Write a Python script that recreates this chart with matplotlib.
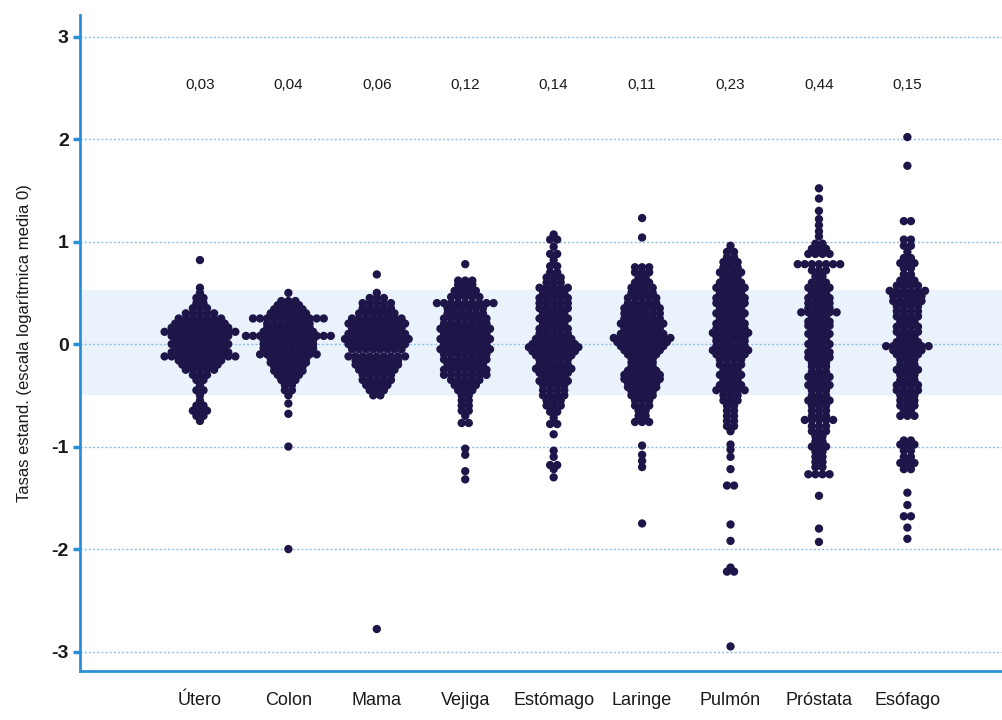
import matplotlib
matplotlib.use("Agg")
import matplotlib.pyplot as plt

# categories and the value printed above each column
categorias = ["Útero", "Colon", "Mama", "Vejiga", "Estómago", "Laringe", "Pulmón", "Próstata", "Esófago"]
etiquetas = ["0,03", "0,04", "0,06", "0,12", "0,14", "0,11", "0,23", "0,44", "0,15"]

# each column: (standardised log rate, number of provinces at that level)
utero = [(0.82, 1), (0.55, 1), (0.50, 1), (0.45, 2), (0.40, 2), (0.35, 3), (0.30, 5), (0.25, 7),
         (0.20, 8), (0.16, 9), (0.12, 11), (0.08, 9), (0.04, 8), (0.00, 9), (-0.04, 8), (-0.08, 9),
         (-0.12, 11), (-0.16, 7), (-0.20, 6), (-0.25, 5), (-0.30, 3), (-0.35, 2), (-0.40, 1),
         (-0.45, 2), (-0.50, 1), (-0.55, 1), (-0.60, 2), (-0.65, 3), (-0.70, 2), (-0.75, 1)]
colon = [(0.50, 1), (0.42, 3), (0.38, 4), (0.34, 5), (0.30, 6), (0.25, 11), (0.20, 7), (0.16, 7),
         (0.12, 8), (0.08, 13), (0.04, 8), (0.00, 8), (-0.04, 8), (-0.10, 9), (-0.14, 6), (-0.18, 6),
         (-0.22, 5), (-0.26, 5), (-0.30, 4), (-0.35, 3), (-0.40, 2), (-0.45, 2), (-0.50, 1),
         (-0.58, 1), (-0.68, 1), (-1.00, 1), (-2.00, 1)]
mama = [(0.68, 1), (0.50, 1), (0.45, 3), (0.40, 5), (0.35, 5), (0.30, 6), (0.25, 8), (0.20, 9),
        (0.15, 8), (0.10, 9), (0.05, 10), (0.00, 9), (-0.05, 8), (-0.12, 9), (-0.16, 7), (-0.20, 7),
        (-0.25, 6), (-0.30, 5), (-0.35, 5), (-0.40, 4), (-0.45, 3), (-0.50, 2), (-2.78, 1)]
vejiga = [(0.78, 1), (0.62, 3), (0.58, 3), (0.52, 4), (0.46, 5), (0.40, 9), (0.35, 6), (0.30, 6),
          (0.25, 7), (0.20, 7), (0.15, 8), (0.10, 7), (0.05, 8), (0.00, 7), (-0.05, 8), (-0.10, 7),
          (-0.15, 7), (-0.20, 6), (-0.25, 7), (-0.30, 7), (-0.35, 5), (-0.40, 4), (-0.45, 3),
          (-0.50, 2), (-0.55, 2), (-0.60, 2), (-0.65, 2), (-0.70, 1), (-0.77, 2), (-1.02, 1),
          (-1.08, 1), (-1.24, 1), (-1.32, 1)]
estomago = [(1.07, 1), (1.02, 2), (0.95, 1), (0.88, 2), (0.82, 1), (0.76, 2), (0.70, 2), (0.65, 3),
            (0.60, 3), (0.55, 5), (0.50, 4), (0.45, 5), (0.40, 5), (0.35, 5), (0.30, 4), (0.25, 5),
            (0.20, 4), (0.15, 5), (0.10, 5), (0.05, 6), (0.00, 7), (-0.03, 8), (-0.07, 7),
            (-0.11, 6), (-0.15, 5), (-0.20, 5), (-0.24, 6), (-0.28, 5), (-0.32, 4), (-0.36, 5),
            (-0.40, 4), (-0.45, 4), (-0.50, 4), (-0.55, 3), (-0.60, 3), (-0.66, 2), (-0.72, 1),
            (-0.78, 2), (-0.88, 1), (-1.04, 1), (-1.10, 1), (-1.18, 2), (-1.22, 1), (-1.30, 1)]
laringe = [(1.23, 1), (1.04, 1), (0.75, 3), (0.70, 3), (0.65, 2), (0.60, 3), (0.55, 4), (0.50, 4),
           (0.45, 5), (0.40, 5), (0.35, 6), (0.30, 6), (0.25, 6), (0.20, 7), (0.15, 6), (0.10, 7),
           (0.06, 9), (0.02, 8), (-0.02, 7), (-0.06, 6), (-0.10, 5), (-0.14, 4), (-0.18, 4),
           (-0.22, 4), (-0.26, 5), (-0.30, 6), (-0.34, 6), (-0.38, 5), (-0.42, 5), (-0.46, 4),
           (-0.50, 4), (-0.55, 3), (-0.60, 3), (-0.65, 2), (-0.70, 2), (-0.76, 3), (-0.99, 1),
           (-1.08, 1), (-1.14, 1), (-1.20, 1), (-1.75, 1)]
pulmon = [(0.96, 1), (0.90, 2), (0.85, 2), (0.80, 3), (0.75, 3), (0.70, 4), (0.65, 3), (0.60, 4),
          (0.55, 5), (0.50, 4), (0.45, 5), (0.40, 5), (0.35, 4), (0.30, 5), (0.25, 4), (0.20, 5),
          (0.15, 5), (0.11, 6), (0.07, 5), (0.03, 5), (-0.02, 5), (-0.06, 6), (-0.10, 5),
          (-0.15, 4), (-0.20, 4), (-0.25, 3), (-0.30, 4), (-0.35, 3), (-0.40, 4), (-0.45, 5),
          (-0.50, 3), (-0.55, 3), (-0.60, 2), (-0.65, 2), (-0.70, 2), (-0.75, 2), (-0.80, 2),
          (-0.85, 1), (-0.98, 1), (-1.03, 1), (-1.10, 1), (-1.22, 1), (-1.38, 2), (-1.76, 1),
          (-1.92, 1), (-2.18, 1), (-2.22, 2), (-2.95, 1)]
prostata = [(1.52, 1), (1.42, 1), (1.30, 1), (1.22, 1), (1.16, 1), (1.10, 1), (1.05, 1), (0.98, 2),
            (0.93, 3), (0.88, 4), (0.78, 7), (0.72, 3), (0.66, 2), (0.60, 3), (0.55, 4), (0.50, 3),
            (0.45, 4), (0.40, 4), (0.35, 4), (0.31, 6), (0.26, 3), (0.22, 4), (0.18, 4), (0.14, 3),
            (0.10, 4), (0.05, 3), (0.00, 4), (-0.04, 3), (-0.08, 4), (-0.13, 4), (-0.18, 3),
            (-0.22, 3), (-0.27, 3), (-0.32, 4), (-0.36, 3), (-0.40, 4), (-0.45, 3), (-0.50, 3),
            (-0.55, 4), (-0.60, 3), (-0.65, 3), (-0.70, 3), (-0.74, 5), (-0.80, 3), (-0.85, 3),
            (-0.90, 2), (-0.95, 2), (-1.00, 3), (-1.05, 2), (-1.10, 2), (-1.15, 2), (-1.20, 2),
            (-1.27, 4), (-1.48, 1), (-1.80, 1), (-1.93, 1)]
esofago = [(2.02, 1), (1.74, 1), (1.20, 2), (1.02, 2), (0.96, 2), (0.90, 1), (0.84, 2), (0.79, 3),
           (0.74, 2), (0.68, 2), (0.62, 3), (0.57, 4), (0.52, 6), (0.47, 5), (0.42, 5), (0.37, 4),
           (0.32, 4), (0.27, 4), (0.22, 3), (0.17, 4), (0.12, 4), (0.07, 3), (0.02, 4), (-0.02, 7),
           (-0.06, 5), (-0.10, 4), (-0.15, 3), (-0.20, 3), (-0.25, 4), (-0.30, 3), (-0.35, 3),
           (-0.40, 4), (-0.45, 4), (-0.50, 3), (-0.55, 3), (-0.60, 3), (-0.65, 2), (-0.70, 3),
           (-0.94, 2), (-0.98, 3), (-1.04, 2), (-1.10, 2), (-1.16, 3), (-1.22, 2), (-1.45, 1),
           (-1.57, 1), (-1.68, 2), (-1.79, 1), (-1.90, 1)]

columnas = [utero, colon, mama, vejiga, estomago, laringe, pulmon, prostata, esofago]

banda = (-0.49, 0.53)   # shaded reference band
azul = "#2b8fd6"
punto = "#1e1648"
paso = 0.08             # horizontal gap between stacked dots

plt.rcParams["font.family"] = ["Liberation Sans", "DejaVu Sans"]

fig = plt.figure(figsize=(10.02, 7.2), dpi=100)
ax = fig.add_axes([0.0798, 0.068, 0.9202, 0.911])

ax.axhspan(banda[0], banda[1], color="#eaf3fc", zorder=0)
for g in range(-3, 4):
    ax.axhline(g, color="#8cc0e8", linestyle=(0, (1.5, 1.5)), linewidth=1.0, zorder=1)

for i, col in enumerate(columnas):
    xs, ys = [], []
    for y, n in col:
        for k in range(n):
            xs.append(i + (k - (n - 1) / 2) * paso)
            ys.append(y)
    ax.scatter(xs, ys, s=36, color=punto, edgecolors="none", zorder=3)
    ax.text(i, 2.53, etiquetas[i], ha="center", va="center", fontsize=11, color="#1a1a1a")

ax.set_xlim(-1.357, 9.07)
ax.set_ylim(-3.19, 3.21)
ax.set_yticks(range(-3, 4))
ax.set_yticklabels([str(v) for v in range(-3, 4)], fontsize=14, fontweight="bold", color="#1a1a1a")
ax.tick_params(axis="y", direction="out", length=5, width=2.5, color=azul, pad=3)
ax.set_xticks(range(len(categorias)))
ax.set_xticklabels(categorias, fontsize=13, color="#1a1a1a")
ax.tick_params(axis="x", length=0, pad=15)

for lado in ["top", "right"]:
    ax.spines[lado].set_visible(False)
for lado in ["left", "bottom"]:
    ax.spines[lado].set_color(azul)
    ax.spines[lado].set_linewidth(2)

ax.set_ylabel("Tasas estand. (escala logarítmica media 0)", fontsize=12, color="#1a1a1a", labelpad=14)

fig.savefig("out.png", dpi=100)
